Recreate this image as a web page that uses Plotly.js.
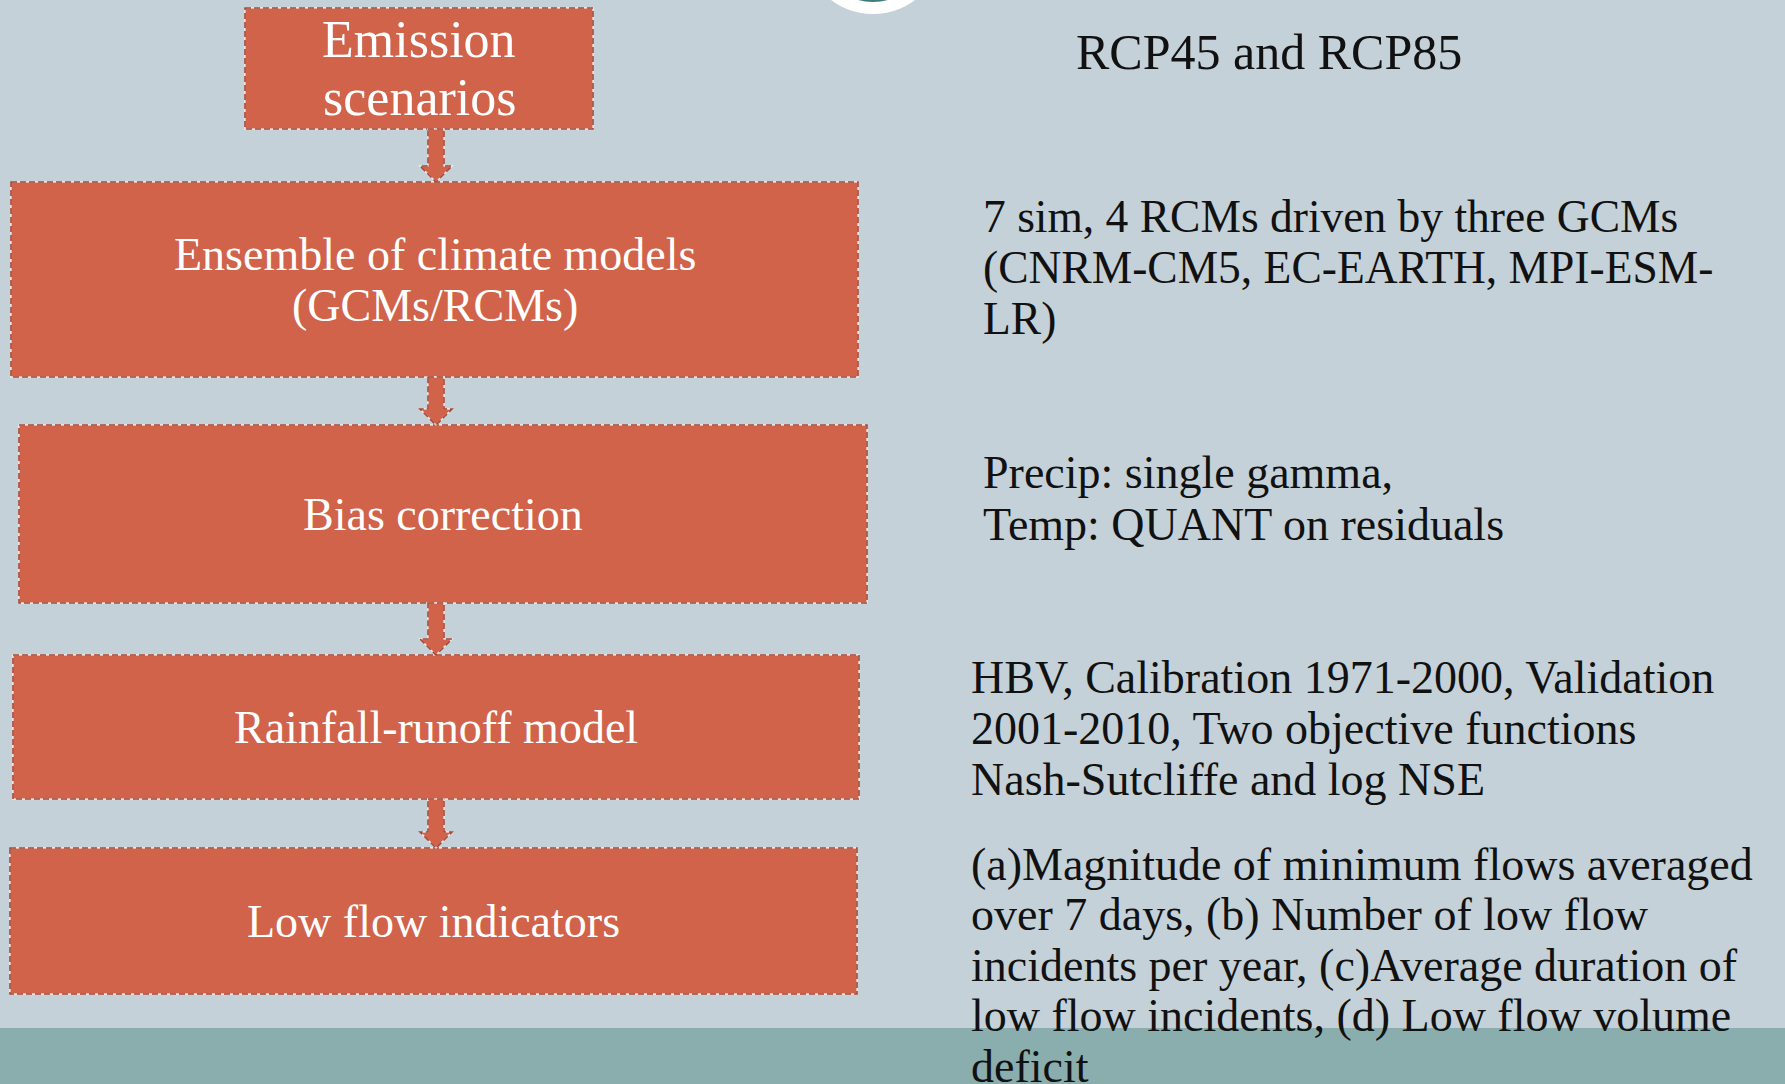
<!DOCTYPE html>
<html>
<head>
<meta charset="utf-8">
<script src="https://cdn.plot.ly/plotly-3.0.1.min.js"></script>
<style>html,body{margin:0;padding:0;background:#C5D1D8;overflow:hidden}#chart{width:1785px;height:1084px}</style>
</head>
<body>
<div id="chart"></div>
<script>
// ---- content ----
const stepLabels = [
  ["Emission", "scenarios"],
  ["Ensemble of climate models", "(GCMs/RCMs)"],
  ["Bias correction"],
  ["Rainfall-runoff model"],
  ["Low flow indicators"]
];
const noteLines = [
  ["RCP45 and RCP85"],
  ["7 sim, 4 RCMs driven by three GCMs", "(CNRM-CM5, EC-EARTH, MPI-ESM-", "LR)"],
  ["Precip: single gamma,", "Temp: QUANT on residuals"],
  ["HBV, Calibration 1971-2000, Validation", "2001-2010, Two objective functions", "Nash-Sutcliffe and log NSE"],
  ["(a)Magnitude of minimum flows averaged", "over 7 days, (b) Number of low flow", "incidents per year, (c)Average duration of", "low flow incidents, (d) Low flow volume", "deficit"]
];

// ---- layout geometry (pixel space of the slide) ----
const boxGeom = [
  {x0: 245, x1: 593, y0: 8,   y1: 129, font: 52, gap: 58},
  {x0: 11,  x1: 858, y0: 182, y1: 377, font: 46, gap: 51},
  {x0: 19,  x1: 867, y0: 425, y1: 603, font: 46, gap: 51},
  {x0: 13,  x1: 859, y0: 655, y1: 799, font: 46, gap: 51},
  {x0: 10,  x1: 857, y0: 848, y1: 994, font: 46, gap: 51}
];
const arrowX = 436;
const noteGeom = [
  {x: 1074, y: 52,  gap: 51, font: 50},
  {x: 981,  y: 216, gap: 51, font: 45.5},
  {x: 981,  y: 472, gap: 52, font: 46},
  {x: 969,  y: 677, gap: 51, font: 46},
  {x: 969,  y: 864, gap: 50.5, font: 46}
];

const FILL = "#D0634A", EDGE = "#A44535", BG = "#C5D1D8", BAND = "#8AADAE";
const SERIF = "Liberation Serif, Times New Roman, serif";

const shapes = [];
const annotations = [];

// bottom band
shapes.push({type: "rect", xref: "x", yref: "y", x0: 0, x1: 1785, y0: 1028, y1: 1084,
  fillcolor: BAND, line: {width: 0}, layer: "below"});
// decorative circle at top
shapes.push({type: "circle", xref: "x", yref: "y", x0: 803, x1: 943, y0: -126, y1: 14,
  fillcolor: "#FFFFFF", line: {width: 0}, layer: "below"});
shapes.push({type: "circle", xref: "x", yref: "y", x0: 816, x1: 930, y0: -112, y1: 2,
  fillcolor: "#3E7C7F", line: {width: 0}, layer: "below"});

function addDashed(base) {
  shapes.push(Object.assign({}, base, {line: {color: "rgba(255,255,255,0.7)", width: 1.5}}));
  shapes.push(Object.assign({}, base, {fillcolor: "rgba(0,0,0,0)", line: {color: EDGE, width: 1.6, dash: "6px,3px"}}));
}

// boxes and labels
boxGeom.forEach((b, i) => {
  addDashed({type: "rect", xref: "x", yref: "y", x0: b.x0, x1: b.x1, y0: b.y0, y1: b.y1,
    fillcolor: FILL, layer: "above"});
  const lines = stepLabels[i];
  const cx = (b.x0 + b.x1) / 2, cy = (b.y0 + b.y1) / 2;
  lines.forEach((t, k) => {
    annotations.push({xref: "x", yref: "y", x: cx, y: cy + (k - (lines.length - 1) / 2) * b.gap,
      text: t, showarrow: false, xanchor: "center", yanchor: "middle",
      font: {family: SERIF, size: b.font, color: "#FFFFFF"}});
  });
});

// arrows between boxes
for (let i = 0; i < boxGeom.length - 1; i++) {
  const y0 = boxGeom[i].y1, y1 = boxGeom[i + 1].y0;
  const hw = 8, hh = 16, hl = 16, x = arrowX;
  const p = `M ${x - hw} ${y0} L ${x + hw} ${y0} L ${x + hw} ${y1 - hl} L ${x + hh} ${y1 - hl} ` +
            `L ${x} ${y1} L ${x - hh} ${y1 - hl} L ${x - hw} ${y1 - hl} Z`;
  addDashed({type: "path", xref: "x", yref: "y", path: p, fillcolor: FILL, layer: "above"});
}

// notes on the right
noteGeom.forEach((n, i) => {
  noteLines[i].forEach((t, k) => {
    annotations.push({xref: "x", yref: "y", x: n.x, y: n.y + k * n.gap, text: t,
      showarrow: false, xanchor: "left", yanchor: "middle",
      font: {family: SERIF, size: n.font, color: "#111111"}});
  });
});

const layout = {
  width: 1785, height: 1084,
  margin: {l: 0, r: 0, t: 0, b: 0, pad: 0},
  paper_bgcolor: BG, plot_bgcolor: BG,
  showlegend: false,
  xaxis: {range: [0, 1785], visible: false, fixedrange: true},
  yaxis: {range: [1084, 0], visible: false, fixedrange: true},
  shapes: shapes,
  annotations: annotations
};

Plotly.newPlot("chart", [{x: [], y: [], type: "scatter", hoverinfo: "skip"}], layout,
  {staticPlot: true, displayModeBar: false});
</script>
</body>
</html>
